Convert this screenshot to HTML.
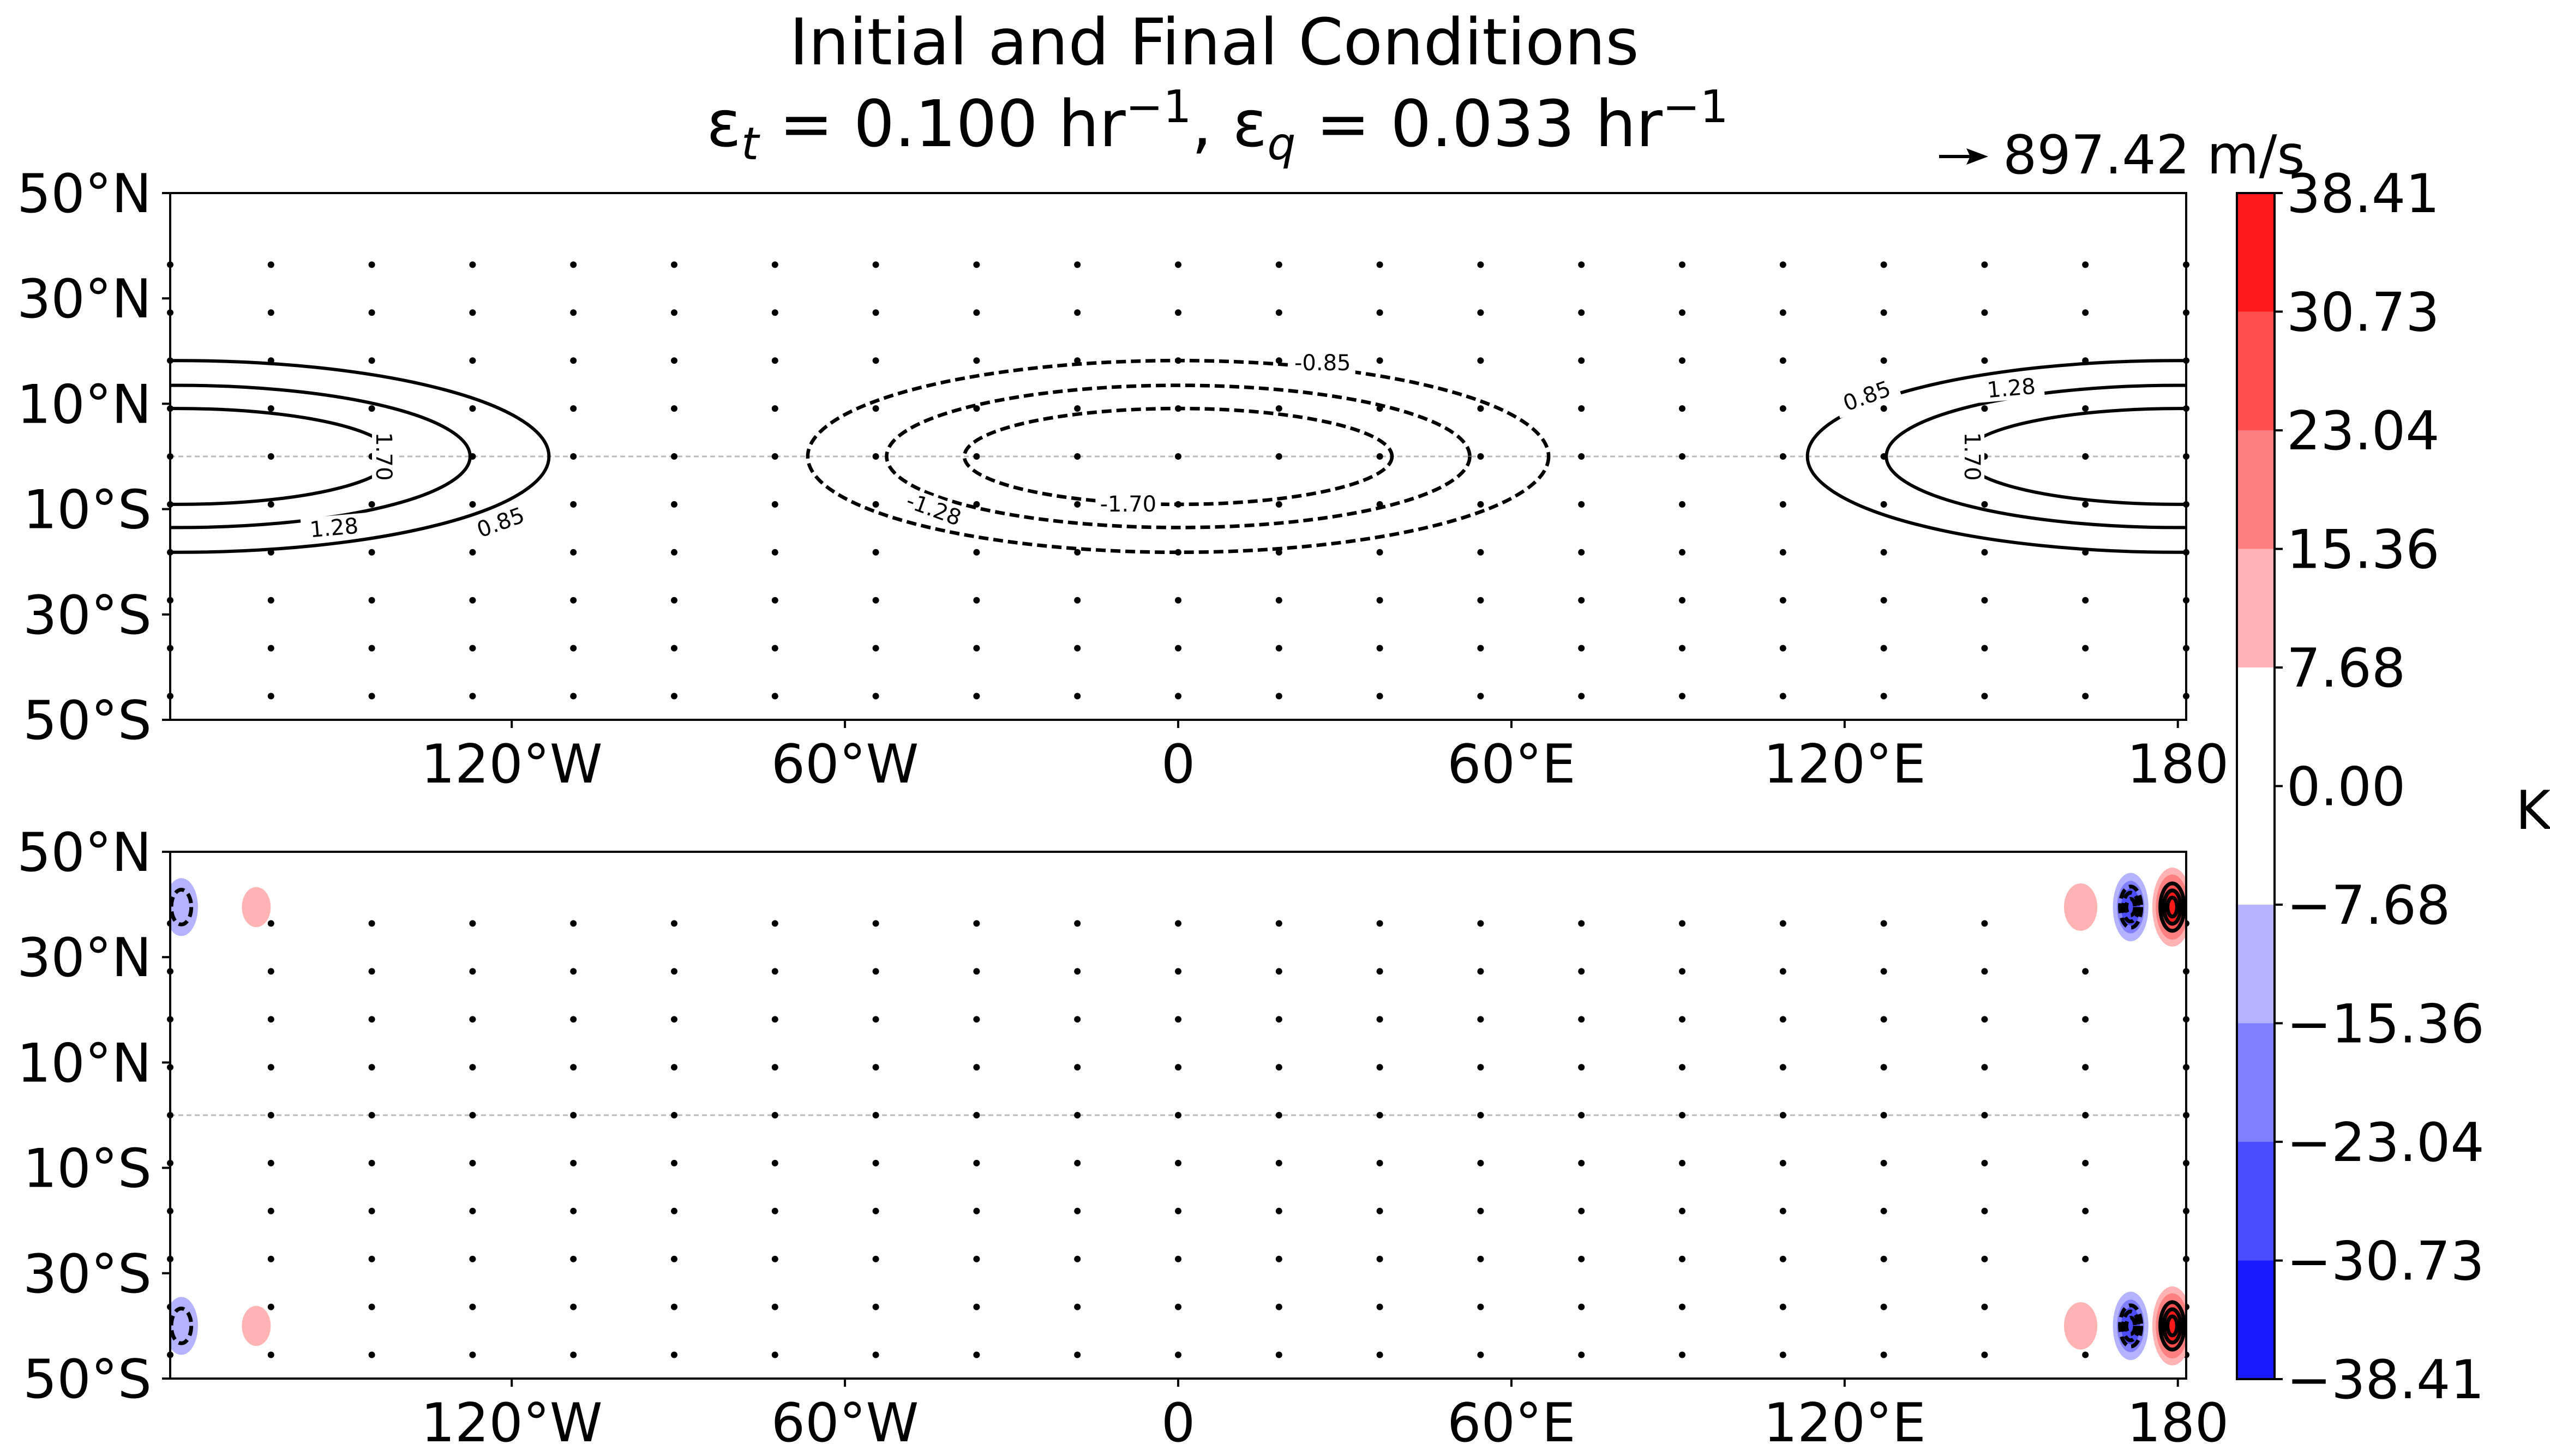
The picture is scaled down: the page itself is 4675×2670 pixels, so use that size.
<!DOCTYPE html>
<html><head><meta charset="utf-8"><style>
html,body{margin:0;padding:0;background:#fff;}
svg{display:block;font-family:"DejaVu Sans","Liberation Sans",sans-serif;}
</style></head><body>
<svg id="fig" xmlns="http://www.w3.org/2000/svg" width="4675" height="2670" viewBox="0 0 4675 2670">
<rect width="4675" height="2670" fill="#fff"/>
<text x="2226" y="118" font-size="118" text-anchor="middle">Initial and Final Conditions</text>
<text x="2232" y="268" font-size="118" text-anchor="middle">ε<tspan font-size="82" dy="24" font-style="italic">t</tspan><tspan dy="-24"> = 0.100 hr</tspan><tspan font-size="82" dy="-44">−1</tspan><tspan dy="44">, ε</tspan><tspan font-size="82" dy="24" font-style="italic">q</tspan><tspan dy="-24"> = 0.033 hr</tspan><tspan font-size="82" dy="-44">−1</tspan></text>
<g>
<line x1="3555" y1="287" x2="3615" y2="287" stroke="#000" stroke-width="6"/>
<polygon points="3645,287 3605,272 3612,287 3605,302" fill="#000"/>
<text x="3672" y="318" font-size="98">897.42 m/s</text>
</g>
<g id="top"></g>
<g id="bot"></g>
<g id="cbar"></g>
<text x="4644" y="1520" font-size="98" text-anchor="middle">K</text>
</svg>
<script>
const NS='http://www.w3.org/2000/svg';
const lonTicks=[-120,-60,0,60,120,180];
const lonTickLabels=['120°W','60°W','0','60°E','120°E','180'];
const latTicks=[50,30,10,-10,-30,-50];
const latTickLabels=['50°N','30°N','10°N','10°S','30°S','50°S'];
const contourLevels=[0.85,1.28,1.70];
const contourLonRadius=[66.7,52.5,38.5];
const contourLatRadius=[18.2,13.5,9.1];
const cbarBounds=[38.41,30.73,23.04,15.36,7.68,0,-7.68,-15.36,-23.04,-30.73,-38.41];
const cbarTickLabels=['38.41','30.73','23.04','15.36','7.68','0.00','−7.68','−15.36','−23.04','−30.73','−38.41'];
const cbarColors=['#ff1a1a','#ff5050','#ff8080','#ffb3b3','#ffffff','#ffffff','#b3b3ff','#8080ff','#4c4cff','#1a1aff'];
// bottom-panel anomaly blobs: lon, lat, value(K), lonRadius, latRadius
const blobLon=[-179.5,-166,162.5,171.5,179,-179.5,-166,162.5,171.5,179];
const blobLat=[39.5,39.5,39.5,39.5,39.5,-40,-40,-40,-40,-40];
const blobVal=[-14,10,10,-24,34,-14,10,10,-24,34];
const blobLonR=[3,2.6,3,3.2,3.6,3,2.6,3,3.2,3.6];
const blobLatR=[5.5,3.8,4.5,6.5,7.5,5.5,3.8,4.5,6.5,7.5];

const X0=312,X1=4008,LON0=-181.5,LON1=181.5;
function xs(l){return X0+(l-LON0)/(LON1-LON0)*(X1-X0);}
function mk(tag,attrs,parent){const e=document.createElementNS(NS,tag);for(const k in attrs)e.setAttribute(k,attrs[k]);parent.appendChild(e);return e;}
function colorFor(v){for(let i=0;i<cbarColors.length;i++){if(v<=cbarBounds[i]&&v>=cbarBounds[i+1])return cbarColors[i];}return '#fff';}

function panel(g,top,bottom,isTop){
  const ys=lat=>top+(50-lat)/100*(bottom-top);
  const eq=mk('line',{x1:X0,x2:X1,y1:ys(0),y2:ys(0),stroke:'#bbb','stroke-width':3,'stroke-dasharray':'9 6'},g);
  
  
  for(let i=0;i<=20;i++)for(let k=-5;k<=4;k++){
    const d=mk('circle',{cx:xs(LON0+i*18.15),cy:ys(k*9.1),r:6,fill:'#000'},g);
    
    
  }
  if(isTop){
    const cp=mk('clipPath',{id:'clipTop'},g);mk('rect',{x:X0,y:top,width:X1-X0,height:bottom-top},cp);
    const cg=mk('g',{'clip-path':'url(#clipTop)'},g);
    contourLevels.forEach((lv,i)=>{
      [-180,180].forEach(c=>{
        const e=mk('ellipse',{cx:xs(c),cy:ys(0),rx:xs(contourLonRadius[i])-xs(0),ry:ys(0)-ys(contourLatRadius[i]),fill:'none',stroke:'#000','stroke-width':6},cg);
        
        
      });
      const n=mk('ellipse',{cx:xs(0),cy:ys(0),rx:xs(contourLonRadius[i])-xs(0),ry:ys(0)-ys(contourLatRadius[i]),fill:'none',stroke:'#000','stroke-width':6.5,'stroke-dasharray':'18 9'},cg);
      
      
    });
    const labs=[[-122,-12.5,'0.85',-20],[-152,-13.5,'1.28',-5],[-143,0,'1.70',90],[124,11.5,'0.85',-20],[150,13,'1.28',-5],[143,0,'1.70',90],[26,17.8,'-0.85',0],[-44,-10,'-1.28',20],[-9,-9,'-1.70',0]];
    labs.forEach(L=>{
      const x=xs(L[0]),y=ys(L[1]);
      mk('rect',{x:x-60,y:y-22,width:120,height:44,fill:'#fff',transform:`rotate(${L[3]} ${x} ${y})`},g);
      const t=mk('text',{x:x,y:y+14,'font-size':40,'text-anchor':'middle',transform:`rotate(${L[3]} ${x} ${y})`},g);
      t.textContent=L[2];
      
      
    });
  } else {
    const cp=mk('clipPath',{id:'clipBot'},g);mk('rect',{x:X0,y:top,width:X1-X0,height:bottom-top},cp);
    const bg=mk('g',{'clip-path':'url(#clipBot)'},g);
    blobLon.forEach((lo,i)=>{
      const cx=xs(lo),cy=ys(blobLat[i]),rx=xs(blobLonR[i])-xs(0),ry=ys(0)-ys(blobLatR[i]);
      const v=blobVal[i],steps=Math.floor(Math.abs(v)/7.68);
      for(let s=0;s<steps;s++){
        const f=1-s/steps*0.7;
        const vv=Math.sign(v)*(7.68*(s+1)+1);
        const e=mk('ellipse',{cx:cx,cy:cy,rx:rx*f,ry:ry*f,fill:colorFor(vv)},bg);
        
        
      }
      if(Math.abs(v)>12){
        const rings=Math.abs(v)>20?3:1;
        for(let r=0;r<rings;r++){
          const f=0.6-r*0.18;
          const c=mk('ellipse',{cx:cx,cy:cy,rx:rx*f,ry:ry*f,fill:'none',stroke:'#000','stroke-width':7},bg);
          if(v<0)c.setAttribute('stroke-dasharray','18 9');
          
          
        }
      }
    });
  }
  const fr=mk('rect',{x:X0,y:top,width:X1-X0,height:bottom-top,fill:'none',stroke:'#000','stroke-width':4},g);
  
  
  latTicks.forEach((l,i)=>{
    mk('line',{x1:X0-15,x2:X0,y1:ys(l),y2:ys(l),stroke:'#000','stroke-width':4},g);
    const t=mk('text',{x:278,y:ys(l)+35,'font-size':98,'text-anchor':'end'},g);
    t.textContent=latTickLabels[i];
    
    
  });
  lonTicks.forEach((l,i)=>{
    mk('line',{x1:xs(l),x2:xs(l),y1:bottom,y2:bottom+15,stroke:'#000','stroke-width':4},g);
    const t=mk('text',{x:xs(l),y:bottom+115,'font-size':98,'text-anchor':'middle'},g);
    t.textContent=lonTickLabels[i];
    
    
  });
}
panel(document.getElementById('top'),354,1320,true);
panel(document.getElementById('bot'),1562,2528,false);

const cb=document.getElementById('cbar');
const CX0=4101,CX1=4170,CY0=354,CY1=2529;
const cy=v=>CY0+(cbarBounds[0]-v)/(cbarBounds[0]-cbarBounds[cbarBounds.length-1])*(CY1-CY0);
cbarColors.forEach((c,i)=>{
  const r=mk('rect',{x:CX0,y:cy(cbarBounds[i]),width:CX1-CX0,height:cy(cbarBounds[i+1])-cy(cbarBounds[i])+0.5,fill:c},cb);
  
  
});
mk('rect',{x:CX0,y:CY0,width:CX1-CX0,height:CY1-CY0,fill:'none',stroke:'#000','stroke-width':4},cb);
cbarBounds.forEach((v,i)=>{
  mk('line',{x1:CX1,x2:CX1+15,y1:cy(v),y2:cy(v),stroke:'#000','stroke-width':4},cb);
  const t=mk('text',{x:4192,y:cy(v)+35,'font-size':98},cb);
  t.textContent=cbarTickLabels[i];
  
  
});
</script>
</body></html>
